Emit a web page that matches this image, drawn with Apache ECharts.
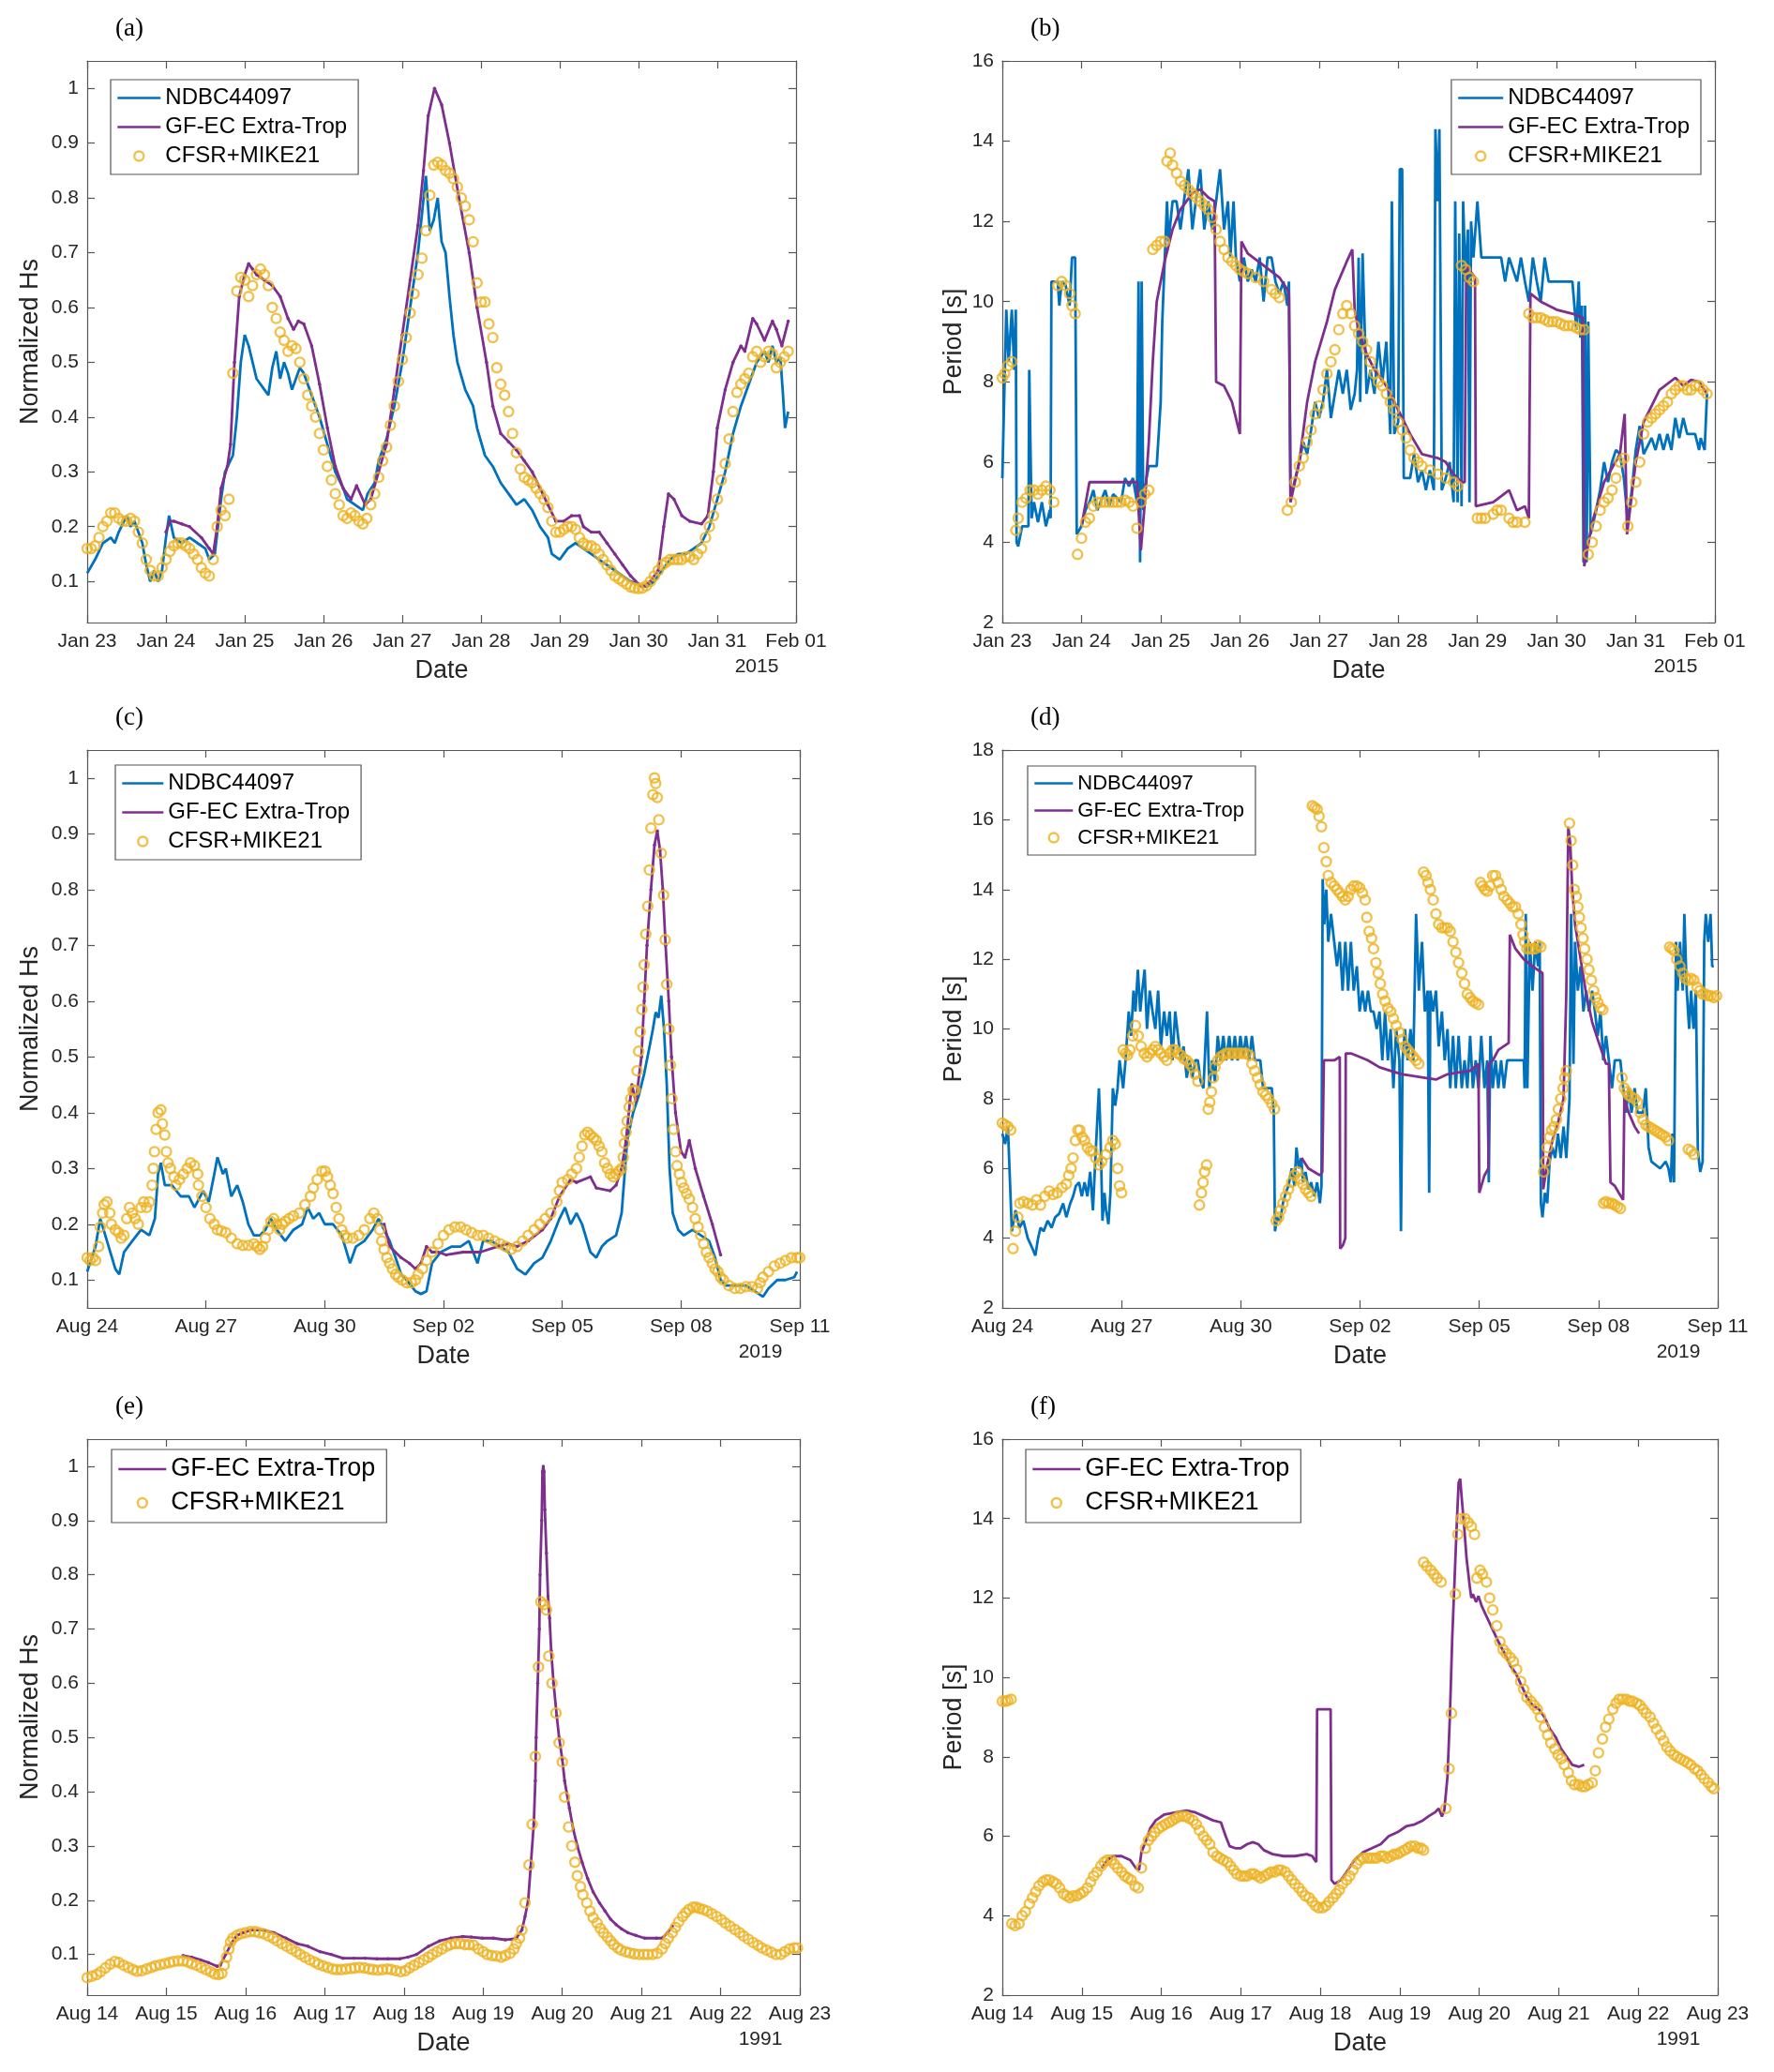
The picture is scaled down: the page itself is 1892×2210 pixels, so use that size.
<!DOCTYPE html>
<html>
<head>
<meta charset="utf-8">
<script src="https://cdn.jsdelivr.net/npm/echarts@6/dist/echarts.min.js"></script>
<style>
html, body { margin: 0; padding: 0; background: #fff; }
#chart { width: 1892px; height: 2210px; }
</style>
</head>
<body>
<div id="chart"></div>
<script>
// tick labels
const ticksJan = ["Jan 23", "Jan 24", "Jan 25", "Jan 26", "Jan 27", "Jan 28", "Jan 29", "Jan 30", "Jan 31", "Feb 01"];
const ticksSep = ["Aug 24", "Aug 27", "Aug 30", "Sep 02", "Sep 05", "Sep 08", "Sep 11"];
const ticksAug = ["Aug 14", "Aug 15", "Aug 16", "Aug 17", "Aug 18", "Aug 19", "Aug 20", "Aug 21", "Aug 22", "Aug 23"];
const hsTicks = [0.1, 0.2, 0.3, 0.4, 0.5, 0.6, 0.7, 0.8, 0.9, 1];

// series data: flat lists of (days since first tick, value)
// (a) Jan 2015, normalized Hs
const ndbcA = [0,.115, .1,.14, .2,.17, .3,.18, .35,.17, .4,.19, .5,.22, .55,.2, .6,.21, .7,.17, .75,.13, .8,.1, .85,.12, .9,.1, .95,.12,
  1.0,.18, 1.04,.22, 1.1,.18, 1.2,.17, 1.3,.18, 1.4,.17, 1.5,.16, 1.55,.14, 1.62,.15, 1.66,.2, 1.7,.25, 1.75,.3, 1.85,.33, 1.9,.4,
  1.95,.5, 2.0,.55, 2.05,.53, 2.1,.5, 2.15,.47, 2.2,.46, 2.25,.45, 2.3,.44, 2.35,.49, 2.4,.52, 2.45,.47, 2.5,.5, 2.55,.48, 2.6,.45,
  2.65,.47, 2.7,.49, 2.75,.48, 2.8,.46, 2.85,.44, 2.95,.4, 3.05,.35, 3.15,.3, 3.25,.27, 3.3,.25, 3.4,.24, 3.5,.23, 3.56,.26, 3.65,.28,
  3.7,.32, 3.8,.36, 3.9,.42, 4.0,.5, 4.05,.55, 4.1,.6, 4.2,.7, 4.3,.84, 4.35,.74, 4.4,.76, 4.45,.8, 4.5,.72, 4.55,.7, 4.6,.62,
  4.65,.55, 4.7,.5, 4.8,.45, 4.9,.42, 4.95,.38, 5.05,.33, 5.15,.31, 5.25,.28, 5.35,.26, 5.45,.24, 5.55,.25, 5.65,.23, 5.75,.2,
  5.85,.18, 5.9,.15, 6.0,.14, 6.1,.16, 6.2,.17, 6.3,.16, 6.4,.15, 6.5,.14, 6.6,.13, 6.7,.12, 6.8,.11, 6.9,.1, 7.0,.095, 7.1,.09,
  7.2,.1, 7.3,.12, 7.4,.14, 7.5,.15, 7.6,.15, 7.7,.16, 7.8,.17, 7.9,.2, 8.0,.25, 8.1,.3, 8.2,.37, 8.3,.42, 8.4,.46, 8.5,.5, 8.6,.52,
  8.65,.5, 8.7,.53, 8.75,.5, 8.8,.51, 8.83,.45, 8.86,.38, 8.9,.41];
const gfecA = [1.0,.19, 1.05,.21, 1.1,.21, 1.2,.205, 1.3,.2, 1.45,.18, 1.55,.16, 1.6,.15, 1.65,.2, 1.7,.27, 1.78,.31, 1.82,.35, 1.87,.5,
  1.93,.62, 2.0,.66, 2.05,.68, 2.1,.67, 2.15,.66, 2.25,.65, 2.35,.64, 2.45,.62, 2.55,.58, 2.62,.56, 2.68,.575, 2.75,.57, 2.85,.53,
  2.95,.46, 3.05,.38, 3.15,.31, 3.25,.27, 3.35,.25, 3.42,.275, 3.53,.24, 3.6,.25, 3.7,.3, 3.8,.35, 3.9,.45, 4.0,.55, 4.1,.65, 4.2,.75,
  4.27,.85, 4.33,.95, 4.41,1.0, 4.5,.97, 4.6,.9, 4.72,.8, 4.85,.7, 4.95,.6, 5.07,.5, 5.15,.42, 5.25,.37, 5.35,.355, 5.45,.34, 5.55,.32,
  5.65,.3, 5.75,.27, 5.85,.24, 5.95,.21, 6.05,.21, 6.15,.22, 6.25,.22, 6.3,.2, 6.4,.19, 6.5,.19, 6.6,.17, 6.7,.15, 6.8,.13, 6.9,.11,
  7.0,.095, 7.05,.09, 7.15,.1, 7.25,.12, 7.32,.2, 7.38,.26, 7.45,.25, 7.55,.22, 7.65,.21, 7.8,.205, 7.88,.22, 7.95,.3, 8.0,.38, 8.1,.45,
  8.2,.5, 8.3,.53, 8.35,.52, 8.45,.58, 8.5,.57, 8.6,.54, 8.7,.575, 8.75,.56, 8.82,.53, 8.9,.575];
const cfsrA = [0,.16, .05,.16, .1,.165, .15,.18, .2,.2, .25,.21, .3,.225, .35,.225, .4,.215, .45,.21, .5,.21, .55,.215, .6,.21, .65,.19,
  .7,.17, .75,.14, .8,.12, .85,.11, .9,.11, .95,.125, 1.0,.14, 1.05,.155, 1.1,.165, 1.15,.17, 1.2,.17, 1.25,.165, 1.3,.16, 1.35,.15,
  1.4,.14, 1.45,.125, 1.5,.115, 1.55,.11, 1.6,.14, 1.65,.2, 1.7,.23, 1.75,.22, 1.8,.25, 1.85,.48, 1.9,.63, 1.95,.655, 2.0,.65, 2.05,.62,
  2.1,.64, 2.15,.66, 2.2,.67, 2.25,.66, 2.3,.64, 2.35,.6, 2.4,.58, 2.45,.555, 2.5,.54, 2.55,.52, 2.6,.53, 2.65,.525, 2.7,.5, 2.75,.47,
  2.8,.44, 2.85,.42, 2.9,.4, 2.95,.37, 3.0,.34, 3.05,.31, 3.1,.285, 3.15,.26, 3.2,.24, 3.25,.22, 3.3,.215, 3.35,.225, 3.4,.22, 3.45,.21,
  3.5,.205, 3.55,.215, 3.6,.24, 3.65,.26, 3.7,.29, 3.75,.32, 3.8,.345, 3.85,.385, 3.9,.42, 3.95,.465, 4.0,.505, 4.05,.545, 4.1,.59,
  4.15,.625, 4.2,.66, 4.25,.69, 4.3,.74, 4.35,.805, 4.4,.86, 4.45,.865, 4.5,.86, 4.55,.85, 4.6,.845, 4.65,.835, 4.7,.82, 4.75,.8,
  4.8,.785, 4.85,.76, 4.9,.72, 4.95,.645, 5.0,.61, 5.05,.61, 5.1,.57, 5.15,.545, 5.2,.49, 5.25,.46, 5.3,.44, 5.35,.41, 5.4,.37,
  5.45,.335, 5.5,.305, 5.55,.29, 5.6,.285, 5.65,.28, 5.7,.27, 5.75,.26, 5.8,.25, 5.85,.235, 5.9,.21, 5.95,.19, 6.0,.19, 6.05,.195,
  6.1,.2, 6.15,.2, 6.2,.195, 6.25,.18, 6.3,.17, 6.35,.165, 6.4,.165, 6.45,.16, 6.5,.15, 6.55,.14, 6.6,.13, 6.65,.12, 6.7,.11, 6.75,.105,
  6.8,.1, 6.85,.095, 6.9,.09, 6.95,.088, 7.0,.087, 7.05,.088, 7.1,.092, 7.15,.1, 7.2,.11, 7.25,.12, 7.3,.13, 7.35,.135, 7.4,.14,
  7.45,.14, 7.5,.14, 7.55,.14, 7.6,.145, 7.65,.145, 7.7,.14, 7.75,.15, 7.8,.16, 7.85,.18, 7.9,.2, 7.95,.22, 8.0,.25, 8.05,.285,
  8.1,.315, 8.15,.36, 8.2,.41, 8.25,.445, 8.3,.46, 8.35,.47, 8.4,.48, 8.45,.51, 8.5,.52, 8.55,.5, 8.6,.51, 8.65,.52, 8.7,.515,
  8.75,.49, 8.8,.5, 8.85,.51, 8.9,.52];

// (b) Jan 2015, period [s]
const ndbcB = [0,5.6, .05,9.8, .08,8.5, .12,9.8, .15,8.3, .17,9.8, .18,4.0, .2,3.9, .25,4.4, .33,4.4, .34,8.3, .37,4.6, .4,5.0, .45,4.5,
  .5,5.0, .55,4.4, .6,4.8, .61,4.6, .62,10.5, .7,10.5, .72,9.9, .75,10.5, .8,10.4, .85,9.9, .88,11.1, .92,11.1, .94,4.2, 1.0,4.4,
  1.05,4.8, 1.1,5.0, 1.15,5.3, 1.2,4.8, 1.3,5.3, 1.35,4.9, 1.4,5.2, 1.5,5.0, 1.55,5.6, 1.6,5.4, 1.65,5.6, 1.7,5.0, 1.72,10.5, 1.74,3.5,
  1.76,10.5, 1.78,4.8, 1.82,5.6, 1.85,5.9, 1.95,5.9, 2.0,7.5, 2.02,9.5, 2.05,11.0, 2.08,12.5, 2.1,11.5, 2.15,12.5, 2.2,12.5, 2.25,11.8,
  2.3,12.6, 2.35,13.3, 2.4,11.8, 2.45,12.6, 2.5,13.3, 2.55,11.8, 2.6,12.5, 2.65,11.8, 2.7,12.5, 2.75,13.3, 2.8,11.8, 2.85,12.5,
  2.88,11.1, 2.92,12.5, 2.95,11.1, 3.0,10.5, 3.05,11.1, 3.1,10.5, 3.15,10.8, 3.2,10.5, 3.25,11.1, 3.3,10.0, 3.35,11.1, 3.4,11.1,
  3.45,10.5, 3.5,10.2, 3.55,10.5, 3.6,9.9, 3.62,10.5, 3.64,5.1, 3.7,5.6, 3.75,6.0, 3.8,6.5, 3.85,6.2, 3.9,6.8, 3.95,7.5, 4.0,7.1,
  4.05,7.5, 4.1,8.3, 4.15,7.1, 4.2,7.7, 4.25,8.3, 4.3,7.7, 4.35,8.3, 4.4,7.3, 4.45,7.7, 4.48,8.3, 4.5,11.1, 4.52,7.5, 4.55,11.2,
  4.6,7.7, 4.65,8.3, 4.7,7.7, 4.75,9.0, 4.8,8.0, 4.85,9.0, 4.9,6.7, 4.92,12.5, 4.95,6.7, 5.0,7.0, 5.02,13.3, 5.05,13.3, 5.07,5.6,
  5.15,5.6, 5.2,6.2, 5.25,5.5, 5.3,5.8, 5.35,5.3, 5.4,5.8, 5.45,5.3, 5.47,14.3, 5.5,12.5, 5.52,14.3, 5.55,5.3, 5.6,5.6, 5.65,6.0,
  5.7,5.0, 5.72,12.5, 5.75,5.0, 5.77,11.7, 5.8,4.9, 5.82,12.5, 5.85,10.5, 5.88,11.8, 5.9,5.0, 5.92,12.0, 5.95,11.1, 6.0,12.5,
  6.05,11.1, 6.3,11.1, 6.35,10.5, 6.4,11.1, 6.5,10.5, 6.55,11.1, 6.6,10.5, 6.65,10.0, 6.7,11.1, 6.75,10.5, 6.8,10.0, 6.85,11.1,
  6.9,10.5, 7.2,10.5, 7.25,9.3, 7.28,10.5, 7.3,9.1, 7.32,9.9, 7.34,3.5, 7.36,9.9, 7.38,3.5, 7.4,9.5, 7.43,4.2, 7.5,4.8, 7.55,5.3,
  7.6,6.0, 7.65,5.5, 7.7,6.0, 7.75,6.3, 7.8,6.2, 7.85,5.6, 7.9,4.5, 7.95,5.3, 8.0,6.3, 8.05,6.9, 8.1,6.2, 8.2,6.6, 8.25,6.3, 8.3,6.7,
  8.35,6.3, 8.4,6.7, 8.45,6.3, 8.5,7.1, 8.55,6.6, 8.6,7.1, 8.65,6.7, 8.75,6.7, 8.8,6.3, 8.82,6.6, 8.87,6.3, 8.9,7.7];
const gfecB = [1.0,4.4, 1.1,5.5, 1.2,5.5, 1.7,5.5, 1.75,3.8, 1.8,5.0, 1.85,6.5, 1.9,8.5, 1.95,10.0, 2.05,11.0, 2.15,11.8, 2.25,12.3,
  2.4,12.7, 2.5,12.8, 2.6,12.6, 2.68,12.5, 2.7,8.0, 2.8,7.9, 2.9,7.5, 3.0,6.7, 3.02,11.5, 3.1,11.2, 3.3,10.9, 3.5,10.6, 3.6,10.3,
  3.62,10.2, 3.64,5.0, 3.75,6.0, 3.85,7.5, 3.95,8.5, 4.1,9.5, 4.2,10.3, 4.35,11.0, 4.42,11.3, 4.45,9.8, 4.5,9.3, 4.6,8.7, 4.7,8.3,
  4.85,7.9, 5.0,7.3, 5.15,6.7, 5.3,6.2, 5.5,6.1, 5.6,6.0, 5.7,5.7, 5.8,5.5, 5.84,5.5, 5.86,10.9, 5.97,10.6, 5.98,4.9, 6.2,5.0,
  6.4,5.3, 6.5,4.8, 6.6,4.9, 6.65,4.6, 6.67,10.2, 6.8,10.0, 7.0,9.8, 7.2,9.7, 7.33,9.6, 7.35,3.4, 7.45,4.5, 7.6,5.5, 7.8,6.2,
  7.86,7.2, 7.89,4.2, 8.0,6.0, 8.1,7.0, 8.3,7.8, 8.5,8.1, 8.6,7.9, 8.7,8.05, 8.8,8.0, 8.9,7.7];
const cfsrB = [0,8.1, .03,8.2, .07,8.4, .12,8.5, .17,4.3, .2,4.6, .25,5.0, .3,5.1, .35,5.3, .4,5.3, .45,5.2, .5,5.3, .55,5.4, .6,5.3,
  .65,5.0, .7,10.4, .75,10.5, .8,10.4, .85,10.2, .88,9.9, .92,9.7, .95,3.7, 1.0,4.1, 1.05,4.5, 1.1,4.6, 1.15,4.9, 1.2,5.0, 1.25,5.0,
  1.3,5.0, 1.35,5.0, 1.4,5.0, 1.45,5.0, 1.5,5.0, 1.55,5.05, 1.6,5.0, 1.65,4.9, 1.7,4.35, 1.75,5.0, 1.8,5.2, 1.85,5.3, 1.9,11.3,
  1.95,11.4, 2.0,11.5, 2.05,11.5, 2.08,13.5, 2.12,13.7, 2.15,13.4, 2.2,13.2, 2.25,13.0, 2.3,12.9, 2.35,12.8, 2.4,12.7, 2.45,12.6,
  2.5,12.5, 2.55,12.4, 2.6,12.3, 2.65,12.1, 2.7,11.8, 2.75,11.5, 2.8,11.3, 2.85,11.1, 2.9,11.0, 2.95,10.9, 3.0,10.8, 3.05,10.75,
  3.1,10.7, 3.2,10.6, 3.3,10.5, 3.4,10.3, 3.45,10.2, 3.5,10.1, 3.6,4.8, 3.65,5.0, 3.7,5.5, 3.75,5.9, 3.8,6.1, 3.85,6.5, 3.9,6.8,
  3.95,7.2, 4.0,7.4, 4.05,7.8, 4.1,8.2, 4.15,8.5, 4.2,8.8, 4.25,9.3, 4.3,9.7, 4.35,9.9, 4.4,9.7, 4.45,9.4, 4.5,9.2, 4.55,9.0,
  4.6,8.8, 4.65,8.5, 4.7,8.2, 4.75,8.0, 4.8,7.9, 4.85,7.7, 4.9,7.5, 4.95,7.3, 5.0,7.0, 5.05,6.8, 5.1,6.6, 5.15,6.3, 5.2,6.1,
  5.25,6.0, 5.3,5.9, 5.4,5.8, 5.5,5.7, 5.6,5.6, 5.7,5.5, 5.75,5.4, 5.8,10.9, 5.85,10.8, 5.9,10.6, 5.95,10.5, 6.0,4.6, 6.05,4.6,
  6.1,4.6, 6.2,4.7, 6.25,4.8, 6.3,4.8, 6.4,4.6, 6.45,4.5, 6.5,4.5, 6.6,4.5, 6.65,9.7, 6.7,9.6, 6.75,9.6, 6.8,9.6, 6.85,9.55, 6.9,9.5,
  6.95,9.5, 7.0,9.5, 7.05,9.45, 7.1,9.4, 7.15,9.4, 7.2,9.4, 7.25,9.35, 7.3,9.3, 7.35,9.3, 7.4,3.7, 7.45,4.0, 7.5,4.4, 7.55,4.8,
  7.6,5.0, 7.65,5.1, 7.7,5.3, 7.75,5.6, 7.8,6.0, 7.85,6.1, 7.9,4.4, 7.95,5.0, 8.0,5.5, 8.05,6.0, 8.1,6.7, 8.15,7.0, 8.2,7.1,
  8.25,7.2, 8.3,7.3, 8.35,7.4, 8.4,7.5, 8.45,7.7, 8.5,7.8, 8.55,7.9, 8.6,7.9, 8.65,7.8, 8.7,7.8, 8.75,7.9, 8.8,7.9, 8.85,7.8, 8.9,7.7];

// (c) Aug-Sep 2019, normalized Hs
const ndbcC = [0,.115, .21,.16, .33,.21, .5,.17, .71,.12, .81,.11, .93,.15, 1.14,.17, 1.36,.19, 1.57,.18, 1.71,.21, 1.79,.29, 1.86,.31,
  1.96,.27, 2.14,.27, 2.36,.25, 2.57,.25, 2.71,.23, 2.93,.26, 3.07,.24, 3.21,.29, 3.29,.32, 3.43,.29, 3.5,.3, 3.64,.25, 3.79,.27,
  3.93,.24, 4.07,.2, 4.21,.18, 4.36,.18, 4.5,.19, 4.64,.21, 4.79,.19, 5.0,.17, 5.21,.19, 5.43,.2, 5.57,.23, 5.71,.21, 5.86,.22,
  6.0,.2, 6.21,.2, 6.43,.18, 6.64,.13, 6.79,.16, 7.0,.17, 7.21,.19, 7.36,.21, 7.5,.19, 7.64,.17, 7.79,.14, 7.93,.11, 8.07,.1,
  8.29,.08, 8.43,.075, 8.57,.08, 8.71,.13, 8.93,.15, 9.21,.16, 9.43,.16, 9.64,.17, 9.86,.13, 10.0,.17, 10.21,.17, 10.43,.16,
  10.64,.15, 10.86,.12, 11.07,.11, 11.29,.13, 11.5,.14, 11.71,.17, 11.93,.21, 12.07,.23, 12.21,.2, 12.36,.22, 12.5,.2, 12.71,.15,
  12.86,.14, 13.0,.16, 13.14,.17, 13.36,.18, 13.5,.22, 13.64,.35, 13.79,.4, 13.93,.43, 14.07,.47, 14.21,.52, 14.29,.55, 14.36,.58,
  14.43,.57, 14.5,.61, 14.57,.55, 14.64,.45, 14.71,.3, 14.79,.22, 14.93,.19, 15.07,.18, 15.29,.19, 15.5,.18, 15.71,.17, 15.86,.14,
  16.0,.1, 16.14,.09, 16.36,.09, 16.64,.09, 16.86,.08, 17.07,.07, 17.21,.085, 17.43,.1, 17.64,.1, 17.86,.105, 17.93,.115];
const gfecC = [7.5,.2, 7.64,.16, 7.93,.14, 8.14,.13, 8.29,.12, 8.43,.13, 8.57,.16, 8.71,.15, 8.86,.15, 9.07,.145, 9.5,.15, 9.93,.15,
  10.36,.16, 10.64,.165, 10.86,.16, 11.14,.17, 11.5,.19, 11.71,.21, 11.93,.25, 12.21,.28, 12.36,.275, 12.71,.285, 12.86,.265,
  13.21,.26, 13.36,.27, 13.5,.3, 13.61,.35, 13.71,.42, 13.76,.45, 13.86,.42, 14.0,.5, 14.07,.6, 14.14,.7, 14.24,.8, 14.33,.88,
  14.4,.905, 14.47,.87, 14.54,.8, 14.61,.7, 14.69,.6, 14.76,.5, 14.86,.4, 15.0,.33, 15.1,.32, 15.21,.35, 15.36,.3, 15.57,.25,
  15.79,.2, 16.0,.145];
const cfsrC = [0,.14, .07,.135, .14,.14, .21,.135, .29,.16, .33,.195, .39,.22, .43,.235, .5,.24, .57,.22, .61,.2, .71,.19, .79,.185,
  .86,.175, .93,.18, 1.0,.21, 1.07,.23, 1.14,.22, 1.21,.21, 1.29,.2, 1.36,.23, 1.43,.24, 1.5,.23, 1.57,.24, 1.64,.27, 1.67,.3,
  1.7,.33, 1.74,.37, 1.79,.4, 1.86,.405, 1.9,.38, 1.96,.36, 2.0,.33, 2.04,.31, 2.1,.3, 2.19,.285, 2.24,.27, 2.33,.28, 2.43,.29,
  2.53,.3, 2.61,.31, 2.71,.305, 2.79,.29, 2.81,.27, 2.9,.25, 3.0,.23, 3.1,.21, 3.21,.2, 3.29,.19, 3.39,.188, 3.5,.185, 3.64,.175,
  3.79,.165, 3.93,.162, 4.07,.162, 4.21,.165, 4.29,.16, 4.36,.155, 4.43,.16, 4.5,.175, 4.57,.19, 4.64,.205, 4.71,.21, 4.79,.2,
  4.86,.19, 4.93,.2, 5.0,.205, 5.1,.21, 5.21,.215, 5.36,.22, 5.5,.235, 5.64,.25, 5.71,.265, 5.81,.28, 5.93,.295, 6.01,.295,
  6.07,.285, 6.14,.27, 6.21,.255, 6.29,.23, 6.36,.21, 6.43,.19, 6.5,.18, 6.57,.175, 6.71,.175, 6.86,.18, 7.0,.19, 7.14,.21,
  7.24,.22, 7.33,.21, 7.39,.19, 7.44,.17, 7.5,.155, 7.57,.14, 7.64,.13, 7.71,.12, 7.79,.11, 7.86,.105, 7.96,.1, 8.07,.095,
  8.19,.095, 8.29,.1, 8.36,.11, 8.47,.12, 8.57,.135, 8.71,.15, 8.86,.165, 9.0,.18, 9.14,.19, 9.29,.195, 9.43,.195, 9.57,.19,
  9.71,.185, 9.86,.18, 10.0,.18, 10.14,.175, 10.29,.17, 10.43,.165, 10.57,.16, 10.71,.155, 10.86,.16, 11.0,.17, 11.14,.18,
  11.29,.19, 11.43,.2, 11.57,.21, 11.71,.22, 11.86,.24, 11.93,.26, 12.0,.275, 12.14,.28, 12.24,.29, 12.36,.3, 12.43,.32, 12.5,.34,
  12.57,.36, 12.64,.365, 12.71,.36, 12.79,.355, 12.86,.35, 12.93,.34, 13.0,.33, 13.07,.31, 13.14,.3, 13.21,.29, 13.29,.285,
  13.36,.29, 13.43,.295, 13.5,.3, 13.54,.32, 13.57,.345, 13.61,.365, 13.64,.385, 13.69,.41, 13.73,.425, 13.79,.44, 13.84,.44,
  13.89,.475, 13.93,.51, 13.97,.545, 14.01,.585, 14.04,.625, 14.07,.665, 14.11,.72, 14.16,.77, 14.2,.835, 14.24,.91, 14.29,.97,
  14.33,1.0, 14.36,.99, 14.4,.965, 14.44,.925, 14.5,.865, 14.56,.79, 14.6,.71, 14.64,.63, 14.69,.55, 14.73,.485, 14.77,.425,
  14.81,.37, 14.86,.33, 14.9,.305, 14.96,.29, 15.01,.275, 15.07,.265, 15.14,.255, 15.21,.245, 15.29,.23, 15.36,.21, 15.43,.195,
  15.5,.18, 15.57,.165, 15.64,.15, 15.71,.14, 15.79,.13, 15.86,.12, 15.93,.115, 16.0,.105, 16.07,.1, 16.21,.09, 16.36,.085,
  16.5,.085, 16.64,.088, 16.79,.088, 16.93,.085, 17.0,.095, 17.07,.105, 17.21,.115, 17.36,.125, 17.5,.13, 17.64,.135, 17.79,.14,
  17.93,.14, 18.0,.14];

// (d) Aug-Sep 2019, period [s]
const ndbcD = [0,7.0, .07,6.7, .14,7.2, .24,4.2, .33,4.8, .43,4.3, .53,4.5, .64,4.0, .76,3.7, .83,3.5, .9,4.0, .96,4.3, 1.04,4.2,
  1.14,4.5, 1.24,4.3, 1.33,4.6, 1.43,4.7, 1.53,5.0, 1.61,4.6, 1.71,5.0, 1.78,5.2, 1.85,5.5, 1.93,5.6, 2.0,5.2, 2.07,5.6, 2.14,5.2,
  2.21,5.9, 2.28,4.8, 2.35,6.5, 2.43,8.3, 2.47,7.0, 2.52,4.5, 2.57,5.3, 2.61,4.8, 2.67,4.4, 2.72,5.3, 2.78,8.3, 2.84,7.8, 2.9,8.3,
  2.95,9.1, 3.04,8.3, 3.1,9.1, 3.18,10.5, 3.24,9.8, 3.3,11.1, 3.35,10.5, 3.41,11.7, 3.47,10.5, 3.52,11.1, 3.58,11.7, 3.64,10.0,
  3.71,11.1, 3.78,10.5, 3.85,10.0, 3.92,11.1, 3.99,9.5, 4.07,10.5, 4.14,9.8, 4.21,10.5, 4.28,9.1, 4.35,10.5, 4.42,9.8, 4.49,9.1,
  4.56,9.5, 4.64,8.6, 4.71,9.1, 4.78,8.6, 4.85,9.1, 4.92,9.1, 4.99,8.5, 5.06,8.3, 5.1,8.3, 5.15,10.5, 5.21,8.3, 5.28,9.1, 5.35,8.5,
  5.42,9.8, 5.49,9.1, 5.56,9.8, 5.63,9.1, 5.71,9.8, 5.78,9.1, 5.85,9.8, 5.92,9.1, 5.99,9.8, 6.06,9.2, 6.13,9.8, 6.21,9.1, 6.28,9.8,
  6.35,9.1, 6.49,9.1, 6.56,8.3, 6.78,8.3, 6.83,7.6, 6.86,4.2, 6.92,4.6, 6.99,4.5, 7.06,5.0, 7.13,5.3, 7.2,5.5, 7.28,6.0, 7.35,5.5,
  7.4,6.6, 7.46,6.0, 7.52,6.3, 7.57,5.6, 7.63,5.9, 7.7,5.4, 7.77,5.6, 7.85,5.2, 7.92,5.6, 7.99,5.0, 8.03,5.5, 8.06,14.3, 8.1,13.0,
  8.15,14.0, 8.2,12.5, 8.27,13.3, 8.35,12.5, 8.42,11.8, 8.49,12.5, 8.56,11.1, 8.63,12.5, 8.7,11.1, 8.77,12.5, 8.84,11.1, 8.92,11.8,
  8.99,10.5, 9.06,11.1, 9.13,10.5, 9.2,11.1, 9.27,10.5, 9.34,10.5, 9.42,10.0, 9.49,10.5, 9.56,9.1, 9.63,10.5, 9.7,9.1, 9.77,10.0,
  9.84,8.3, 9.91,10.0, 9.99,9.1, 10.03,4.2, 10.07,9.1, 10.13,10.0, 10.2,9.1, 10.27,10.0, 10.34,9.1, 10.41,13.3, 10.48,11.1,
  10.56,12.5, 10.63,10.5, 10.7,11.1, 10.74,5.3, 10.77,11.1, 10.84,10.5, 10.91,11.1, 10.98,9.5, 11.06,10.5, 11.13,9.1, 11.2,10.0,
  11.27,8.3, 11.34,9.8, 11.41,8.3, 11.48,9.8, 11.56,8.3, 11.63,9.1, 11.7,8.3, 11.77,9.8, 11.84,8.3, 11.91,9.1, 11.98,8.3, 12.05,9.8,
  12.13,8.3, 12.2,9.1, 12.24,5.6, 12.28,9.8, 12.34,8.3, 12.41,9.1, 12.48,8.3, 12.55,9.1, 12.62,8.3, 12.7,9.1, 13.12,9.1, 13.14,8.3,
  13.17,13.3, 13.21,8.3, 13.27,12.5, 13.34,11.1, 13.41,12.5, 13.48,11.8, 13.52,12.5, 13.55,5.0, 13.59,4.6, 13.65,5.3, 13.71,5.0,
  13.77,6.2, 13.84,6.6, 13.91,6.3, 13.98,7.0, 14.05,6.3, 14.12,7.2, 14.19,6.3, 14.27,8.0, 14.31,13.3, 14.37,9.0, 14.41,12.5,
  14.48,11.1, 14.55,11.8, 14.62,10.5, 14.69,11.1, 14.76,10.5, 14.84,11.1, 14.91,10.5, 14.98,9.8, 15.05,10.5, 15.12,9.1, 15.19,9.8,
  15.26,9.1, 15.34,8.3, 15.41,9.1, 15.55,9.1, 15.62,8.3, 15.69,7.6, 15.76,8.3, 15.83,7.6, 15.91,8.3, 15.98,7.6, 16.12,7.6,
  16.19,8.3, 16.26,6.6, 16.33,6.2, 16.55,6.0, 16.69,6.2, 16.76,6.0, 16.82,5.6, 16.86,7.0, 16.9,5.6, 16.95,12.5, 16.99,11.1,
  17.05,12.5, 17.12,11.1, 17.16,13.3, 17.22,11.1, 17.28,10.0, 17.33,11.1, 17.39,10.0, 17.45,11.1, 17.5,6.5, 17.56,5.9, 17.62,6.2,
  17.66,12.5, 17.7,13.3, 17.76,12.5, 17.82,13.3, 17.86,11.8, 17.9,11.8];
const gfecD = [7.53,6.3, 7.7,6.0, 7.85,5.9, 7.99,5.8, 8.05,5.9, 8.09,9.1, 8.35,9.1, 8.49,9.2, 8.5,3.7, 8.57,3.8, 8.63,4.0, 8.64,9.3,
  8.77,9.3, 8.99,9.2, 9.2,9.1, 9.49,8.9, 9.77,8.8, 10.06,8.7, 10.34,8.65, 10.63,8.6, 10.91,8.55, 11.2,8.7, 11.48,8.75, 11.77,8.8,
  11.98,9.0, 12.0,5.3, 12.13,5.8, 12.23,6.0, 12.24,9.0, 12.34,9.1, 12.48,9.4, 12.74,9.6, 12.77,12.7, 12.91,12.3, 13.12,12.0,
  13.34,11.8, 13.59,11.6, 13.61,5.4, 13.69,6.0, 13.84,6.8, 13.98,7.3, 14.12,8.0, 14.19,11.0, 14.24,15.8, 14.29,15.3, 14.34,14.0,
  14.41,13.0, 14.55,12.0, 14.69,11.0, 14.84,10.2, 14.98,9.7, 15.19,9.0, 15.26,9.0, 15.3,5.6, 15.41,5.5, 15.51,5.3, 15.62,5.1,
  15.65,8.0, 15.76,7.6, 15.91,7.2, 16.02,7.0];
const cfsrD = [0,7.3, .07,7.25, .14,7.2, .21,7.1, .27,3.7, .33,4.2, .39,4.6, .44,5.0, .53,5.05, .64,5.0, .76,4.95, .86,5.1, .96,4.95,
  1.07,5.2, 1.18,5.35, 1.28,5.25, 1.38,5.3, 1.5,5.45, 1.61,5.55, 1.67,5.8, 1.73,6.0, 1.78,6.3, 1.84,6.8, 1.9,7.1, 1.95,7.1, 2.01,6.9,
  2.07,6.8, 2.14,6.6, 2.21,6.5, 2.28,6.5, 2.35,6.3, 2.43,6.1, 2.5,6.2, 2.61,6.4, 2.71,6.6, 2.78,6.8, 2.84,6.7, 2.9,6.0, 2.95,5.5,
  3.0,5.3, 3.04,9.4, 3.1,9.3, 3.15,9.25, 3.21,9.4, 3.28,9.8, 3.35,10.1, 3.42,9.8, 3.49,9.5, 3.57,9.3, 3.64,9.2, 3.71,9.3, 3.78,9.4,
  3.85,9.5, 3.92,9.4, 3.99,9.3, 4.07,9.2, 4.14,9.1, 4.21,9.3, 4.28,9.4, 4.35,9.4, 4.42,9.3, 4.49,9.25, 4.56,9.15, 4.64,9.1, 4.71,9.0,
  4.78,8.9, 4.85,8.7, 4.92,8.5, 4.96,4.95, 5.01,5.3, 5.05,5.6, 5.09,5.9, 5.14,6.1, 5.18,7.7, 5.22,7.9, 5.26,8.2, 5.31,8.6, 5.35,8.9,
  5.42,9.1, 5.49,9.2, 5.56,9.25, 5.63,9.3, 5.7,9.3, 5.78,9.3, 5.85,9.3, 5.92,9.3, 5.99,9.3, 6.06,9.3, 6.13,9.3, 6.21,9.25, 6.28,9.0,
  6.35,8.8, 6.42,8.6, 6.49,8.4, 6.56,8.2, 6.63,8.1, 6.7,8.0, 6.78,7.85, 6.85,7.7, 6.89,4.5, 6.95,4.6, 7.0,4.8, 7.06,5.0, 7.13,5.2,
  7.2,5.4, 7.28,5.6, 7.35,5.8, 7.42,5.9, 7.49,5.7, 7.56,5.55, 7.63,5.4, 7.7,5.3, 7.77,5.2, 7.8,16.4, 7.86,16.35, 7.92,16.3,
  7.97,16.1, 8.03,15.8, 8.09,15.2, 8.15,14.8, 8.2,14.4, 8.27,14.2, 8.35,14.1, 8.42,14.0, 8.49,13.9, 8.56,13.8, 8.63,13.7, 8.7,13.8,
  8.77,14.0, 8.84,14.1, 8.92,14.1, 8.99,14.05, 9.06,13.9, 9.13,13.7, 9.17,13.2, 9.23,12.8, 9.29,12.6, 9.34,12.3, 9.4,11.9,
  9.46,11.6, 9.51,11.3, 9.57,11.0, 9.63,10.8, 9.7,10.6, 9.77,10.5, 9.84,10.3, 9.91,10.1, 9.99,9.9, 10.06,9.7, 10.13,9.5, 10.2,9.4,
  10.27,9.3, 10.34,9.2, 10.41,9.1, 10.48,9.0, 10.6,14.5, 10.66,14.4, 10.71,14.2, 10.77,14.0, 10.84,13.7, 10.91,13.3, 10.98,13.0,
  11.06,12.9, 11.13,12.9, 11.2,12.9, 11.27,12.8, 11.34,12.5, 11.41,12.2, 11.48,11.9, 11.56,11.6, 11.63,11.3, 11.7,11.0, 11.77,10.9,
  11.84,10.8, 11.91,10.75, 11.98,10.7, 12.03,14.2, 12.08,14.1, 12.14,14.0, 12.2,13.95, 12.27,14.1, 12.34,14.4, 12.41,14.4,
  12.48,14.2, 12.55,14.0, 12.62,13.8, 12.7,13.7, 12.77,13.6, 12.84,13.5, 12.91,13.5, 12.98,13.3, 13.05,13.0, 13.1,12.7, 13.14,12.5,
  13.2,12.3, 13.27,12.3, 13.34,12.3, 13.41,12.3, 13.48,12.4, 13.55,12.35, 13.62,5.9, 13.67,6.2, 13.71,6.6, 13.77,6.9, 13.82,7.1,
  13.88,7.2, 13.94,7.4, 13.99,7.7, 14.05,8.0, 14.11,8.3, 14.15,8.6, 14.19,8.8, 14.27,15.9, 14.31,15.4, 14.35,14.7, 14.39,14.0,
  14.44,13.8, 14.48,13.5, 14.52,13.2, 14.56,12.9, 14.61,12.6, 14.65,12.3, 14.71,12.0, 14.76,11.7, 14.82,11.4, 14.88,11.1,
  14.93,10.9, 14.99,10.75, 15.05,10.6, 15.11,10.55, 15.13,5.0, 15.19,5.05, 15.26,5.0, 15.34,5.0, 15.41,4.95, 15.48,4.9, 15.55,4.85,
  15.59,8.6, 15.65,8.3, 15.71,8.2, 15.76,8.1, 15.83,8.05, 15.91,8.0, 15.98,7.9, 16.05,7.6, 16.12,7.4, 16.19,7.25, 16.26,7.2,
  16.33,7.15, 16.41,7.1, 16.48,7.05, 16.55,7.0, 16.62,6.95, 16.69,6.9, 16.76,6.8, 16.79,12.35, 16.85,12.3, 16.9,12.25, 16.97,12.0,
  17.05,11.8, 17.12,11.6, 17.19,11.45, 17.26,11.4, 17.33,11.45, 17.4,11.4, 17.48,11.2, 17.55,11.1, 17.62,11.0, 17.69,11.0,
  17.76,10.95, 17.83,10.95, 17.9,10.9, 17.97,10.95, 17.26,6.55, 17.33,6.5, 17.4,6.4];

// (e) Aug 1991, normalized Hs
const gfecE = [1.21,.098, 1.32,.095, 1.43,.09, 1.53,.085, 1.64,.078, 1.68,.08, 1.75,.1, 1.82,.12, 1.89,.135, 1.97,.14, 2.07,.145,
  2.22,.145, 2.36,.14, 2.51,.13, 2.65,.12, 2.79,.115, 2.94,.105, 3.08,.1, 3.23,.093, 3.37,.093, 3.51,.093, 3.66,.092, 3.8,.092,
  3.95,.092, 4.05,.095, 4.16,.1, 4.31,.115, 4.45,.125, 4.59,.13, 4.74,.133, 4.85,.132, 4.99,.13, 5.13,.13, 5.28,.127, 5.35,.128,
  5.42,.13, 5.49,.145, 5.53,.17, 5.57,.2, 5.6,.26, 5.64,.34, 5.66,.42, 5.67,.5, 5.69,.6, 5.71,.7, 5.72,.8, 5.74,.9, 5.75,.99,
  5.76,1.0, 5.77,.99, 5.78,.92, 5.8,.84, 5.82,.76, 5.84,.72, 5.86,.66, 5.89,.6, 5.93,.54, 5.96,.5, 6.0,.46, 6.03,.42, 6.09,.37,
  6.14,.33, 6.19,.3, 6.25,.27, 6.32,.24, 6.39,.215, 6.47,.195, 6.54,.18, 6.61,.165, 6.68,.155, 6.75,.147, 6.83,.14, 6.93,.135,
  7.04,.13, 7.19,.13, 7.26,.13, 7.33,.14, 7.39,.152];
const cfsrE = [0,.057, .06,.06, .12,.063, .17,.068, .23,.075, .29,.082, .35,.087, .4,.085, .46,.08, .52,.076, .58,.072, .63,.069,
  .69,.07, .75,.073, .81,.076, .86,.079, .92,.081, .98,.083, 1.04,.085, 1.09,.087, 1.15,.088, 1.21,.088, 1.27,.086, 1.32,.083,
  1.38,.08, 1.44,.076, 1.5,.072, 1.56,.068, 1.61,.064, 1.66,.063, 1.7,.065, 1.73,.08, 1.76,.095, 1.79,.11, 1.81,.123, 1.84,.13,
  1.89,.135, 1.94,.138, 2.0,.14, 2.06,.142, 2.12,.142, 2.17,.14, 2.23,.138, 2.29,.134, 2.35,.13, 2.4,.125, 2.46,.12, 2.52,.115,
  2.58,.11, 2.64,.105, 2.69,.1, 2.75,.095, 2.81,.09, 2.87,.086, 2.92,.082, 2.98,.079, 3.04,.076, 3.1,.073, 3.15,.072, 3.21,.072,
  3.27,.073, 3.33,.074, 3.38,.075, 3.44,.076, 3.5,.075, 3.56,.073, 3.61,.072, 3.67,.071, 3.73,.072, 3.79,.073, 3.84,.072, 3.9,.07,
  3.96,.068, 4.02,.07, 4.07,.075, 4.13,.08, 4.19,.085, 4.25,.09, 4.31,.095, 4.36,.1, 4.42,.105, 4.48,.11, 4.54,.115, 4.59,.118,
  4.65,.12, 4.71,.12, 4.77,.118, 4.82,.118, 4.88,.117, 4.94,.11, 5.0,.105, 5.05,.1, 5.11,.098, 5.17,.097, 5.23,.095, 5.28,.098,
  5.34,.102, 5.39,.11, 5.42,.12, 5.46,.13, 5.49,.145, 5.53,.195, 5.58,.265, 5.62,.34, 5.66,.465, 5.7,.63, 5.73,.75, 5.77,.745,
  5.8,.735, 5.83,.65, 5.87,.6, 5.92,.545, 5.96,.49, 6.0,.455, 6.03,.39, 6.08,.335, 6.12,.3, 6.16,.27, 6.19,.245, 6.23,.225, 6.26,.21,
  6.31,.195, 6.35,.18, 6.39,.168, 6.44,.158, 6.48,.148, 6.52,.14, 6.57,.132, 6.61,.125, 6.65,.118, 6.7,.112, 6.74,.108, 6.8,.105,
  6.85,.103, 6.91,.101, 6.97,.1, 7.03,.1, 7.08,.1, 7.14,.1, 7.2,.102, 7.26,.11, 7.3,.12, 7.34,.13, 7.39,.14, 7.43,.15, 7.47,.16,
  7.52,.17, 7.56,.177, 7.6,.183, 7.65,.187, 7.69,.187, 7.73,.185, 7.78,.183, 7.83,.18, 7.89,.175, 7.95,.17, 8.01,.164, 8.06,.158,
  8.12,.152, 8.18,.146, 8.24,.14, 8.29,.134, 8.35,.128, 8.41,.122, 8.47,.117, 8.52,.112, 8.58,.108, 8.64,.104, 8.7,.1, 8.76,.1,
  8.81,.105, 8.87,.11, 8.93,.112, 8.97,.112];

// (f) Aug 1991, period [s]
const gfecF = [1.25,5.2, 1.32,5.4, 1.39,5.5, 1.5,5.5, 1.61,5.4, 1.68,5.2, 1.72,5.15, 1.75,5.6, 1.81,5.9, 1.86,6.2, 1.93,6.4, 2.04,6.55,
  2.18,6.6, 2.32,6.65, 2.43,6.6, 2.54,6.5, 2.65,6.4, 2.75,6.35, 2.81,6.0, 2.86,5.75, 2.93,5.7, 3.0,5.7, 3.08,5.8, 3.15,5.85,
  3.22,5.8, 3.29,5.65, 3.4,5.55, 3.54,5.5, 3.68,5.5, 3.83,5.55, 3.9,5.5, 3.93,5.4, 3.95,5.35, 3.96,9.2, 4.13,9.2, 4.14,4.9,
  4.18,4.8, 4.26,4.9, 4.33,5.1, 4.43,5.4, 4.54,5.6, 4.65,5.7, 4.76,5.8, 4.86,6.0, 4.97,6.1, 5.08,6.25, 5.19,6.3, 5.29,6.4, 5.36,6.5,
  5.44,6.6, 5.49,6.7, 5.53,6.5, 5.56,6.65, 5.6,7.5, 5.63,9.0, 5.66,11.0, 5.69,12.5, 5.72,14.0, 5.74,14.9, 5.76,15.0, 5.78,14.5,
  5.81,13.8, 5.84,13.0, 5.88,12.3, 5.9,12.0, 5.92,12.1, 5.96,11.9, 5.99,12.05, 6.03,11.8, 6.1,11.5, 6.17,11.2, 6.24,10.9, 6.32,10.6,
  6.39,10.3, 6.46,10.1, 6.53,9.8, 6.6,9.5, 6.67,9.3, 6.75,9.2, 6.82,9.0, 6.89,8.7, 6.96,8.5, 7.03,8.2, 7.1,8.0, 7.17,7.8, 7.25,7.75,
  7.32,7.8];
const cfsrF = [0,9.4, .04,9.4, .07,9.42, .11,9.45, .12,3.8, .16,3.75, .21,3.8, .25,4.0, .29,4.1, .34,4.3, .38,4.45, .42,4.6, .46,4.75,
  .51,4.85, .55,4.9, .59,4.9, .64,4.85, .68,4.8, .72,4.7, .77,4.55, .81,4.5, .85,4.45, .89,4.5, .94,4.5, .98,4.55, 1.02,4.6, 1.07,4.7,
  1.11,4.85, 1.15,5.0, 1.19,5.1, 1.24,5.25, 1.28,5.35, 1.32,5.4, 1.37,5.4, 1.41,5.3, 1.45,5.2, 1.5,5.1, 1.54,5.0, 1.58,4.95,
  1.62,4.9, 1.67,4.75, 1.71,4.7, 1.75,5.2, 1.8,5.7, 1.84,5.9, 1.88,6.0, 1.92,6.1, 1.97,6.2, 2.01,6.25, 2.05,6.3, 2.1,6.35, 2.14,6.4,
  2.18,6.45, 2.22,6.5, 2.27,6.5, 2.31,6.5, 2.35,6.45, 2.4,6.4, 2.44,6.3, 2.48,6.15, 2.53,6.0, 2.57,5.9, 2.61,5.8, 2.65,5.6, 2.7,5.5,
  2.74,5.45, 2.78,5.4, 2.83,5.35, 2.87,5.25, 2.91,5.15, 2.95,5.05, 3.0,5.0, 3.04,5.0, 3.08,5.0, 3.13,5.05, 3.17,5.05, 3.21,5.0,
  3.25,4.95, 3.3,5.0, 3.34,5.05, 3.38,5.1, 3.43,5.1, 3.47,5.15, 3.51,5.15, 3.56,5.1, 3.6,5.0, 3.64,4.9, 3.68,4.8, 3.73,4.7, 3.77,4.6,
  3.81,4.5, 3.86,4.45, 3.9,4.35, 3.94,4.25, 3.98,4.2, 4.03,4.2, 4.07,4.25, 4.11,4.35, 4.16,4.45, 4.2,4.55, 4.24,4.65, 4.28,4.8,
  4.33,4.9, 4.37,5.0, 4.41,5.15, 4.46,5.3, 4.5,5.4, 4.54,5.45, 4.59,5.45, 4.63,5.45, 4.67,5.45, 4.71,5.45, 4.76,5.5, 4.8,5.5,
  4.84,5.45, 4.89,5.5, 4.93,5.55, 4.97,5.55, 5.01,5.6, 5.06,5.65, 5.1,5.7, 5.14,5.75, 5.19,5.75, 5.23,5.7, 5.27,5.7, 5.3,5.65,
  5.3,12.9, 5.34,12.8, 5.39,12.7, 5.43,12.6, 5.47,12.5, 5.52,12.4, 5.58,6.7, 5.62,7.7, 5.65,9.1, 5.7,12.1, 5.73,13.6, 5.77,14.0,
  5.82,14.0, 5.86,13.9, 5.9,13.8, 5.94,13.6, 5.97,12.5, 6.01,12.7, 6.04,12.6, 6.09,12.4, 6.13,12.0, 6.17,11.7, 6.22,11.3, 6.26,10.9,
  6.3,10.7, 6.34,10.6, 6.39,10.5, 6.43,10.4, 6.47,10.2, 6.52,9.9, 6.56,9.7, 6.6,9.5, 6.65,9.4, 6.69,9.3, 6.73,9.2, 6.77,9.0,
  6.82,8.75, 6.86,8.55, 6.9,8.35, 6.95,8.2, 6.99,8.05, 7.03,7.95, 7.07,7.8, 7.12,7.6, 7.16,7.4, 7.2,7.3, 7.25,7.3, 7.29,7.25,
  7.33,7.25, 7.37,7.3, 7.42,7.35, 7.46,7.65, 7.5,8.1, 7.55,8.45, 7.59,8.75, 7.63,8.95, 7.68,9.2, 7.72,9.35, 7.76,9.45, 7.8,9.45,
  7.85,9.45, 7.89,9.4, 7.93,9.4, 7.98,9.35, 8.02,9.3, 8.06,9.2, 8.1,9.1, 8.15,9.0, 8.19,8.85, 8.23,8.7, 8.28,8.55, 8.32,8.4,
  8.36,8.25, 8.4,8.15, 8.45,8.05, 8.49,8.0, 8.53,7.95, 8.58,7.9, 8.62,7.85, 8.66,7.8, 8.71,7.7, 8.75,7.65, 8.79,7.55, 8.83,7.45,
  8.88,7.35, 8.92,7.25, 8.95,7.2];

const BLUE = "#0072BD", PURPLE = "#7E2F8E", YELLOW = "#EDB120";
const SANS = "Liberation Sans, Arial, Helvetica, sans-serif";
const AXC = "#555555", TXT = "#262626";
const NOMARK = { color: "rgba(255,255,255,0)", borderWidth: 0 };

function pairs(flat) {
    let out = [];
    for (let i = 0; i < flat.length; i += 2) out.push([flat[i], flat[i + 1]]);
    return out;
}

let panels = [
    { tag: "(a)", grid: [93, 65, 756, 599], ticks: ticksJan, step: 1, xmax: 9, ymin: 0.025, ymax: 1.05, hs: true, yName: "Normalized Hs",
      year: "2015", ndbc: ndbcA, gfec: gfecA, cfsr: cfsrA, dots: true, leg: { left: 118, top: 85, font: 24, iw: 46, gap: 6 } },
    { tag: "(b)", grid: [1069, 65, 760, 599], ticks: ticksJan, step: 1, xmax: 9, ymin: 2, ymax: 16, hs: false, yName: "Period [s]",
      year: "2015", ndbc: ndbcB, gfec: gfecB, cfsr: cfsrB, dots: false, leg: { right: 78, top: 85, font: 24, iw: 48, gap: 6 } },
    { tag: "(c)", grid: [93, 800, 760, 595], ticks: ticksSep, step: 3, xmax: 18, ymin: 0.05, ymax: 1.05, hs: true, yName: "Normalized Hs",
      year: "2019", ndbc: ndbcC, gfec: gfecC, cfsr: cfsrC, dots: true, leg: { left: 123, top: 816, font: 24, iw: 44, gap: 6 } },
    { tag: "(d)", grid: [1069, 800, 763, 595], ticks: ticksSep, step: 3, xmax: 18, ymin: 2, ymax: 18, hs: false, yName: "Period [s]",
      year: "2019", ndbc: ndbcD, gfec: gfecD, cfsr: cfsrD, dots: false, leg: { left: 1096, top: 817, font: 22, iw: 41, gap: 6 } },
    { tag: "(e)", grid: [93, 1535, 760, 593], ticks: ticksAug, step: 1, xmax: 9, ymin: 0.025, ymax: 1.05, hs: true, yName: "Normalized Hs",
      year: "1991", ndbc: null, gfec: gfecE, cfsr: cfsrE, dots: true, leg: { left: 119, top: 1546, font: 27, iw: 51, gap: 8 } },
    { tag: "(f)", grid: [1069, 1535, 763, 593], ticks: ticksAug, step: 1, xmax: 9, ymin: 2, ymax: 16, hs: false, yName: "Period [s]",
      year: "1991", ndbc: null, gfec: gfecF, cfsr: cfsrF, dots: false, leg: { left: 1094, top: 1546, font: 27, iw: 51, gap: 8 } }
];

let grids = [], xAxes = [], yAxes = [], series = [], legends = [], graphics = [];

panels.forEach((p, i) => {
    let [gl, gt, gw, gh] = p.grid;
    grids.push({ left: gl, top: gt, width: gw, height: gh, containLabel: false, show: false });

    let line = { show: true, onZero: false, lineStyle: { color: AXC, width: 1.2 } };
    let tick = { show: true, inside: true, length: 8, lineStyle: { color: AXC, width: 1.2 } };
    let xBase = { gridIndex: i, type: "value", min: 0, max: p.xmax, interval: p.step, axisLine: line, axisTick: tick, splitLine: { show: false } };
    xAxes.push(Object.assign({}, xBase, {
        position: "bottom",
        axisLabel: { formatter: v => p.ticks[Math.round(v / p.step)], fontSize: 21, fontFamily: SANS, color: TXT, margin: 10 },
        name: "Date", nameLocation: "middle", nameGap: 38,
        nameTextStyle: { fontSize: 27, fontFamily: SANS, color: TXT, verticalAlign: "top" }
    }));
    xAxes.push(Object.assign({}, xBase, { position: "top", axisLabel: { show: false } }));

    let yBase = { gridIndex: i, type: "value", min: p.ymin, max: p.ymax, axisLine: line, splitLine: { show: false } };
    let yTick = Object.assign({}, tick), yLab = { fontSize: 21, fontFamily: SANS, color: TXT, margin: 9 };
    if (p.hs) {
        yTick.customValues = hsTicks;
        yLab.customValues = hsTicks;
        yLab.formatter = v => String(+v.toFixed(1));
    } else {
        yBase.interval = 2;
    }
    yAxes.push(Object.assign({}, yBase, {
        position: "left", axisTick: yTick, axisLabel: yLab,
        name: p.yName, nameLocation: "middle", nameRotate: 90, nameGap: p.hs ? 47 : 38,
        nameTextStyle: { fontSize: 27, fontFamily: SANS, color: TXT }
    }));
    yAxes.push(Object.assign({}, yBase, { position: "right", axisTick: yTick, axisLabel: { show: false } }));

    let items = [];
    if (p.ndbc) {
        series.push({ name: "NDBC44097|" + i, type: "line", xAxisIndex: 2 * i, yAxisIndex: 2 * i, data: pairs(p.ndbc),
            showSymbol: false, symbol: "none", lineStyle: { color: BLUE, width: 2.8 }, itemStyle: { color: BLUE }, z: 2, animation: false });
        items.push({ name: "NDBC44097|" + i, itemStyle: NOMARK, lineStyle: { width: 2.6 } });
    }
    series.push({ name: "GF-EC Extra-Trop|" + i, type: "line", xAxisIndex: 2 * i, yAxisIndex: 2 * i, data: pairs(p.gfec),
        symbol: p.dots ? "circle" : "none", symbolSize: 3.5, showSymbol: p.dots,
        lineStyle: { color: PURPLE, width: 2.8 }, itemStyle: { color: PURPLE }, z: 3, animation: false });
    items.push({ name: "GF-EC Extra-Trop|" + i, itemStyle: NOMARK, lineStyle: { width: 2.6 } });
    series.push({ name: "CFSR+MIKE21|" + i, type: "scatter", xAxisIndex: 2 * i, yAxisIndex: 2 * i, data: pairs(p.cfsr),
        symbol: "circle", symbolSize: 10, itemStyle: { color: "rgba(255,255,255,0)", borderColor: YELLOW, borderWidth: 2.4 },
        z: 4, animation: false });
    items.push({ name: "CFSR+MIKE21|" + i, itemStyle: { color: "rgba(255,255,255,0)", borderColor: YELLOW, borderWidth: 2.4 } });

    let lg = {
        orient: "vertical", top: p.leg.top, backgroundColor: "#fff", borderColor: AXC, borderWidth: 1.2,
        padding: [7, 12, 7, 6], itemWidth: p.leg.iw, itemHeight: 10, itemGap: p.leg.gap, selectedMode: false,
        textStyle: { fontSize: p.leg.font, fontFamily: SANS, color: "#000", lineHeight: p.leg.font + 1 },
        formatter: n => n.split("|")[0],
        data: items
    };
    if (p.leg.left !== undefined) lg.left = p.leg.left; else lg.right = p.leg.right;
    legends.push(lg);

    graphics.push({ type: "text", left: gl + 30, top: gt - 48,
        style: { text: p.tag, font: "27px 'Liberation Serif', 'Times New Roman', serif", fill: "#000" } });
    graphics.push({ type: "text", x: gl + gw - 42, y: gt + gh + 47,
        style: { text: p.year, font: "21px " + SANS, fill: TXT, textAlign: "center", textVerticalAlign: "middle" } });
});

let chart = echarts.init(document.getElementById("chart"), null, { renderer: "canvas" });
chart.setOption({
    backgroundColor: "#ffffff",
    animation: false,
    grid: grids,
    xAxis: xAxes,
    yAxis: yAxes,
    legend: legends,
    series: series,
    graphic: graphics
});
</script>
</body>
</html>
